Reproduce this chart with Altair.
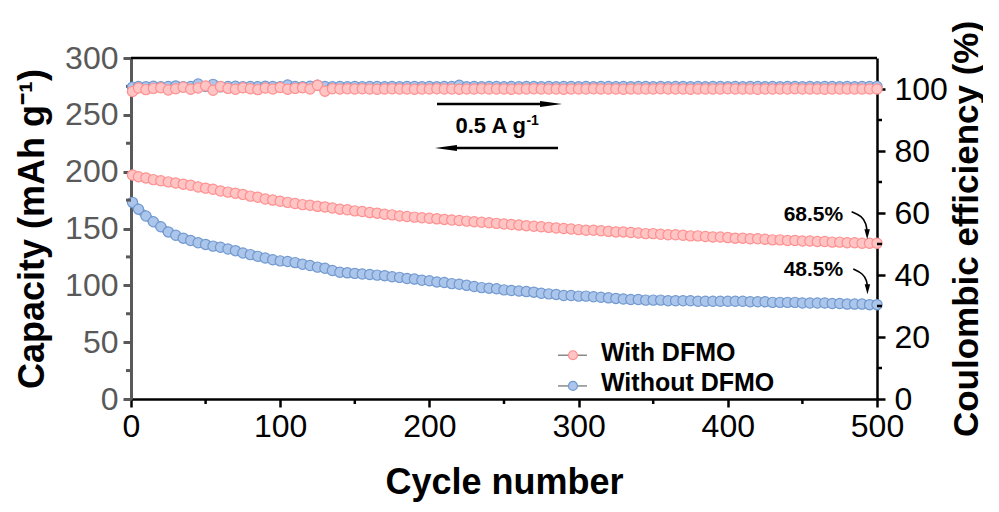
import altair as alt
import pandas as pd

# ---------------- data ----------------
cycles = [1] + list(range(5, 501, 5))

cap_with = [197, 195.5, 194.5, 193, 192, 191, 190, 189, 188, 186.5,
            185.5, 184.5, 183, 182, 181, 180, 178.5, 177.5, 176, 175,
            174, 173, 172, 171, 170.5, 169.5, 169, 168, 167, 166.5,
            165.5, 165, 164, 163.5, 162.5, 162, 161, 160.5, 160, 159.5,
            159, 158.5, 158, 157.5, 157, 156.5, 156, 155.5, 155, 154.5,
            154, 153.5, 153, 152.5, 152, 151.5, 151, 150.5, 150, 149.5,
            149, 148.5, 148.5, 148, 147.5, 147, 147, 146.5, 146, 145.5,
            145.5, 145, 144.5, 144.5, 144, 143.5, 143.5, 143, 142.5, 142.5,
            142, 141.5, 141.5, 141, 141, 140.5, 140, 140, 139.5, 139.5,
            139, 139, 138.5, 138.5, 138, 138, 137.5, 137.5, 137, 137, 137]

cap_without = [173, 167, 161, 156, 151.5, 147, 144, 141.5, 139.5, 137.5,
               136, 134.5, 133.5, 132, 130.5, 128.5, 127, 125.5, 124, 122.5,
               121.5, 121, 120, 118.5, 117.5, 116, 115, 113, 111.5, 111,
               110.5, 110, 109.5, 109, 108.5, 107.5, 107, 106, 105.5, 104.5,
               104, 103, 102.5, 101.5, 101, 100, 99, 98, 97.5, 97,
               96, 95.5, 95, 94.5, 94, 93, 92.5, 92, 91, 91,
               90.5, 90.5, 90, 89.5, 89, 88.5, 88, 87.5, 87.5, 87,
               87, 87, 86.5, 86.5, 86.5, 86.5, 86, 86, 86, 86,
               86, 86, 86, 85.5, 85.5, 85.5, 85, 85, 85, 85,
               84.5, 84.5, 84.5, 84.5, 84, 84, 83.5, 83.5, 83.5, 83, 83]

ce_with = [99.2, 100.3, 99.8, 100.2, 100.4, 99.7, 100.1, 100.6, 99.9, 100.3,
           101.0, 99.6, 100.8, 100.2, 99.9, 100.4, 100.1, 99.8, 100.3, 100.0,
           100.5, 99.9, 100.2, 100.4, 100.0, 101.2, 99.3, 100.1, 100.0, 100.1,
           100.0, 100.1, 100.0, 99.9, 100.0, 100.1, 100.0, 100.0, 99.9, 100.0,
           100.0, 100.1, 100.0, 100.0, 99.9, 100.0, 100.0, 100.1, 100.0, 100.0,
           100.0, 99.9, 100.0, 100.0, 100.1, 100.0, 100.0, 100.0, 99.9, 100.0,
           100.0, 100.0, 100.1, 100.0, 100.0, 100.0, 99.9, 100.0, 100.0, 100.0,
           100.0, 100.1, 100.0, 100.0, 100.0, 99.9, 100.0, 100.0, 100.0, 100.0,
           100.1, 100.0, 100.0, 100.0, 99.9, 100.0, 100.0, 100.0, 100.0, 100.1,
           100.0, 100.0, 100.0, 99.9, 100.0, 100.0, 100.0, 100.0, 100.0, 100.0, 100.0]

ce_without = [100.6, 100.8, 100.7, 100.9, 100.7, 100.8, 101.0, 100.7, 100.8, 101.6,
              100.8, 101.5, 100.7, 100.8, 100.9, 100.7, 100.8, 100.7, 100.9, 100.8,
              100.7, 101.3, 100.8, 100.7, 100.9, 101.2, 100.8, 100.7, 100.8, 100.7,
              100.8, 100.7, 100.8, 100.8, 100.7, 100.8, 100.7, 100.8, 100.8, 100.7,
              100.8, 100.7, 100.8, 100.8, 101.2, 100.7, 100.8, 100.7, 100.8, 100.8,
              100.7, 100.8, 100.7, 100.8, 100.8, 100.7, 100.8, 100.7, 100.8, 100.8,
              100.7, 100.8, 100.7, 100.8, 100.8, 100.7, 100.8, 100.7, 100.8, 100.8,
              100.7, 100.8, 100.7, 100.8, 100.8, 100.7, 100.8, 100.7, 100.8, 100.8,
              100.7, 100.8, 100.7, 100.8, 100.8, 100.7, 100.8, 100.7, 100.8, 100.8,
              100.7, 100.8, 100.7, 100.8, 100.8, 100.7, 100.8, 100.7, 100.8, 100.8, 100.8]

x_ticks = [0, 100, 200, 300, 400, 500]
x_minor = [50, 150, 250, 350, 450]
yl_ticks = [0, 50, 100, 150, 200, 250, 300]
yl_minor = [25, 75, 125, 175, 225, 275]
yr_ticks = [0, 20, 40, 60, 80, 100]
yr_minor = [10, 30, 50, 70, 90]

series_labels = ["With DFMO", "Without DFMO"]
retention_labels = ["68.5%", "48.5%"]
rate_label = "0.5 A g"

df = pd.DataFrame({"cycle": cycles, "cap_with": cap_with, "cap_without": cap_without,
                   "ce_with": ce_with, "ce_without": ce_without})

# ---------------- styling ----------------
W, H = 746, 341
FONT = "Liberation Sans"
GRAY = "#595959"
RED_FILL, RED_STROKE, RED_BAND = "#ffc4c4", "#ff9090", "#ffa3a3"
BLUE_FILL, BLUE_STROKE, BLUE_BAND = "#abc6ea", "#7299d0", "#86a9dc"
MS = 105

xscale = alt.Scale(domain=[0, 500], nice=False, zero=False)
xaxis = alt.Axis(values=x_ticks, title="Cycle number", grid=False, format="d", labelFlush=False,
                 domainColor="black", domainWidth=2.5, tickColor="black", tickWidth=2.5,
                 tickSize=8, labelFontSize=32, labelColor="black", labelFont=FONT,
                 labelPadding=4, titlePadding=23)
ylscale = alt.Scale(domain=[0, 300], nice=False, zero=False)
ylaxis = alt.Axis(values=yl_ticks, title="Capacity (mAh g\u207b\u00b9)", orient="left", grid=False,
                  domainColor=GRAY, domainWidth=3, tickColor=GRAY, tickWidth=3, tickSize=8,
                  labelFontSize=32, labelColor=GRAY, labelFont=FONT, labelPadding=5,
                  titlePadding=13)
yrscale = alt.Scale(domain=[0, 110], nice=False, zero=False)
yraxis = alt.Axis(values=yr_ticks, title="Coulombic efficiency (%)", orient="right", grid=False,
                  domainColor="black", domainWidth=2.5, tickColor="black", tickWidth=2.5,
                  tickSize=8, labelFontSize=32, labelColor="black", labelFont=FONT,
                  labelPadding=9, titleAngle=-90, titleBaseline="middle", titleX=89,
                  titleFontSize=35)


def X(f):
    return alt.X(f, type="quantitative", scale=xscale, axis=xaxis)


def X2(f):
    return alt.X2(f)


def YL(f):
    return alt.Y(f, type="quantitative", scale=ylscale, axis=ylaxis)


def YR(f):
    return alt.Y(f, type="quantitative", scale=yrscale, axis=yraxis)


base = alt.Chart(df)

band_red = base.mark_line(color=RED_BAND, strokeWidth=8).encode(x=X("cycle"), y=YL("cap_with"))
band_blue = base.mark_line(color=BLUE_BAND, strokeWidth=8).encode(x=X("cycle"), y=YL("cap_without"))
cap_red = base.mark_circle(size=MS, fill=RED_FILL, stroke=RED_STROKE, strokeWidth=1.2,
                           opacity=1).encode(x=X("cycle"), y=YL("cap_with"))
cap_blue = base.mark_circle(size=MS, fill=BLUE_FILL, stroke=BLUE_STROKE, strokeWidth=1.2,
                            opacity=1).encode(x=X("cycle"), y=YL("cap_without"))

# top frame line
top_line = alt.Chart(pd.DataFrame({"a": [0]})).mark_rule(color="black", strokeWidth=2.5).encode(
    x=alt.value(0), x2=alt.value(W), y=alt.value(0))

# minor ticks
lminor = alt.Chart(pd.DataFrame({"v": yl_minor})).mark_rule(color=GRAY, strokeWidth=3).encode(
    y=YL("v"), x=alt.value(-5), x2=alt.value(0))
bminor = alt.Chart(pd.DataFrame({"v": x_minor})).mark_rule(color="black", strokeWidth=2.5).encode(
    x=X("v"), y=alt.value(H), y2=alt.value(H + 5))

# retention annotations
pct = alt.Chart(pd.DataFrame({"x": [457.4, 457.4], "y": [162.1, 113.5], "t": retention_labels})).mark_text(
    font=FONT, fontWeight="bold", fontSize=21, color="black", baseline="middle", align="center").encode(
    x=X("x"), y=YL("y"), text="t:N")

curve_df = pd.DataFrame({
    "g": ["a"] * 4 + ["b"] * 4,
    "o": [0, 1, 2, 3] * 2,
    "x": [483.0, 489.9, 492.9, 493.3, 484.1, 490.6, 493.3, 493.5],
    "y": [164.8, 161.0, 154.0, 146.9, 114.4, 110.4, 103.8, 98.5],
})
curves = alt.Chart(curve_df).mark_line(color="black", strokeWidth=1.6, interpolate="basis").encode(
    x=X("x"), y=YL("y"), detail="g:N", order="o:Q")
heads_df = pd.DataFrame({"x": [493.4, 493.6], "y": [145.0, 96.6]})
heads = alt.Chart(heads_df).mark_point(shape="M-0.55,-1L0.55,-1L0,1Z", filled=True, size=100,
                                       color="black", opacity=1).encode(x=X("x"), y=YL("y"))

# rate arrows
rate_lines = alt.Chart(pd.DataFrame({"x0": [205.1, 215.0], "x1": [277.5, 286.2], "y": [259.5, 220.8]})
                       ).mark_rule(color="black", strokeWidth=2.5).encode(x=X("x0"), x2=X2("x1"), y=YL("y"))
rhead = alt.Chart(pd.DataFrame({"x": [281.5], "y": [259.5]})).mark_point(
    shape="M-1,-0.28L1,0L-1,0.28Z", filled=True, size=484, color="black", opacity=1).encode(x=X("x"), y=YL("y"))
lhead = alt.Chart(pd.DataFrame({"x": [211.1], "y": [220.8]})).mark_point(
    shape="M1,-0.28L-1,0L1,0.28Z", filled=True, size=484, color="black", opacity=1).encode(x=X("x"), y=YL("y"))
rate_txt = alt.Chart(pd.DataFrame({"x": [217.5], "y": [234.0], "t": [rate_label]})).mark_text(
    font=FONT, fontWeight="bold", fontSize=22, color="black", baseline="alphabetic", align="left").encode(
    x=X("x"), y=YL("y"), text="t:N")
rate_sup = alt.Chart(pd.DataFrame({"x": [265.0], "y": [241.0], "t": ["-1"]})).mark_text(
    font=FONT, fontWeight="bold", fontSize=14, color="black", baseline="alphabetic", align="left").encode(
    x=X("x"), y=YL("y"), text="t:N")

# legend
leg_lines = alt.Chart(pd.DataFrame({"x0": [286.2, 286.2], "x1": [305.6, 305.6], "y": [38.5, 11.5]})
                      ).mark_rule(color="#8a8a8a", strokeWidth=1.5).encode(x=X("x0"), x2=X2("x1"), y=YL("y"))
leg_red = alt.Chart(pd.DataFrame({"x": [296.2], "y": [38.5]})).mark_circle(
    size=80, fill=RED_FILL, stroke=RED_STROKE, strokeWidth=1.2, opacity=1).encode(x=X("x"), y=YL("y"))
leg_blue = alt.Chart(pd.DataFrame({"x": [296.2], "y": [11.5]})).mark_circle(
    size=80, fill=BLUE_FILL, stroke=BLUE_STROKE, strokeWidth=1.2, opacity=1).encode(x=X("x"), y=YL("y"))
leg_txt = alt.Chart(pd.DataFrame({"x": [315.0, 315.0], "y": [40.5, 14.0], "t": series_labels})).mark_text(
    font=FONT, fontWeight="bold", fontSize=25, color="black", baseline="middle", align="left").encode(
    x=X("x"), y=YL("y"), text="t:N")

left = alt.layer(band_red, band_blue, cap_red, cap_blue, top_line, lminor, bminor, pct, curves, heads,
                 rate_lines, rhead, lhead, rate_txt, rate_sup,
                 leg_lines, leg_red, leg_blue, leg_txt)

ce_band_b = base.mark_line(color=BLUE_BAND, strokeWidth=7).encode(x=X("cycle"), y=YR("ce_without"))
ce_band_r = base.mark_line(color=RED_BAND, strokeWidth=7).encode(x=X("cycle"), y=YR("ce_with"))
ce_blue = base.mark_circle(size=MS, fill=BLUE_FILL, stroke=BLUE_STROKE, strokeWidth=1.2,
                           opacity=1).encode(x=X("cycle"), y=YR("ce_without"))
ce_red = base.mark_circle(size=MS, fill=RED_FILL, stroke=RED_STROKE, strokeWidth=1.2,
                          opacity=1).encode(x=X("cycle"), y=YR("ce_with"))
rminor = alt.Chart(pd.DataFrame({"v": yr_minor})).mark_rule(color="black", strokeWidth=2.5).encode(
    y=YR("v"), x=alt.value(W), x2=alt.value(W + 5))
right = alt.layer(ce_band_b, ce_blue, ce_band_r, ce_red, rminor)

chart = alt.layer(left, right).resolve_scale(y="independent").properties(
    width=W, height=H,
    padding={"left": 123, "top": 50, "right": 106, "bottom": 105},
    autosize=alt.AutoSizeParams(type="none"),
).configure_view(stroke=None).configure_axis(
    titleFont=FONT, titleFontWeight="bold", titleFontSize=36, titleColor="black"
)

chart.save("out.html", embed_options={"renderer": "svg", "actions": False})
